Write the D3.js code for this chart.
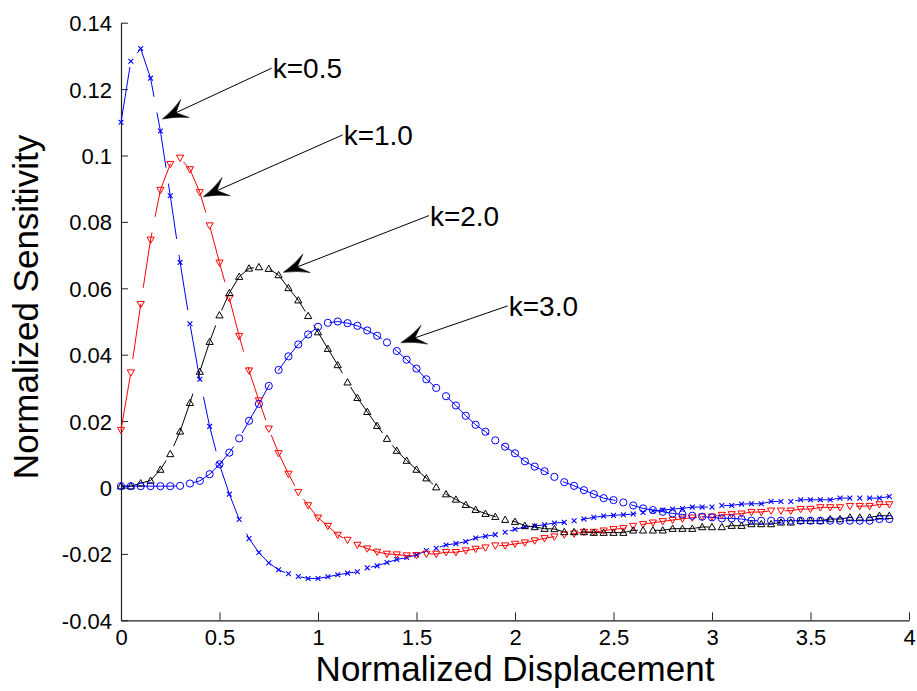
<!DOCTYPE html>
<html>
<head>
<meta charset="utf-8">
<script src="https://cdn.jsdelivr.net/npm/d3@7/dist/d3.min.js"></script>
<style>
  html, body { margin: 0; padding: 0; background: #fff; }
  svg { display: block; font-family: "Liberation Sans", Arial, Helvetica, sans-serif; }
</style>
</head>
<body>
<svg id="chart" width="917" height="691"></svg>
<script>
// Normalized displacement samples (step 0.05)
const displacement = [
  0.00, 0.05, 0.10, 0.15, 0.20, 0.25, 0.30, 0.35, 0.40, 0.45,
  0.50, 0.55, 0.60, 0.65, 0.70, 0.75, 0.80, 0.85, 0.90, 0.95,
  1.00, 1.05, 1.10, 1.15, 1.20, 1.25, 1.30, 1.35, 1.40, 1.45,
  1.50, 1.55, 1.60, 1.65, 1.70, 1.75, 1.80, 1.85, 1.90, 1.95,
  2.00, 2.05, 2.10, 2.15, 2.20, 2.25, 2.30, 2.35, 2.40, 2.45,
  2.50, 2.55, 2.60, 2.65, 2.70, 2.75, 2.80, 2.85, 2.90, 2.95,
  3.00, 3.05, 3.10, 3.15, 3.20, 3.25, 3.30, 3.35, 3.40, 3.45,
  3.50, 3.55, 3.60, 3.65, 3.70, 3.75, 3.80, 3.85, 3.90
];

// Normalized sensitivity for each k
const sensK05 = [
  0.1100, 0.1284, 0.1322, 0.1233, 0.1074, 0.0879, 0.0678, 0.0493, 0.0326, 0.0184,
  0.0069, -0.0020, -0.0096, -0.0154, -0.0196, -0.0227, -0.0248, -0.0260, -0.0268, -0.0274,
  -0.0274, -0.0269, -0.0263, -0.0258, -0.0254, -0.0242, -0.0236, -0.0226, -0.0217, -0.0211,
  -0.0203, -0.0190, -0.0183, -0.0173, -0.0169, -0.0163, -0.0152, -0.0147, -0.0142, -0.0135,
  -0.0126, -0.0119, -0.0116, -0.0112, -0.0107, -0.0105, -0.0100, -0.0095, -0.0090, -0.0086,
  -0.0084, -0.0082, -0.0080, -0.0075, -0.0071, -0.0068, -0.0065, -0.0063, -0.0059, -0.0059,
  -0.0059, -0.0054, -0.0054, -0.0050, -0.0049, -0.0049, -0.0042, -0.0042, -0.0042, -0.0037,
  -0.0037, -0.0037, -0.0037, -0.0032, -0.0032, -0.0032, -0.0032, -0.0032, -0.0027
];

const sensK10 = [
  0.0173, 0.0346, 0.0552, 0.0746, 0.0896, 0.0974, 0.0993, 0.0958, 0.0889, 0.0789,
  0.0677, 0.0570, 0.0456, 0.0352, 0.0262, 0.0177, 0.0103, 0.0041, -0.0014, -0.0054,
  -0.0091, -0.0116, -0.0143, -0.0158, -0.0173, -0.0184, -0.0194, -0.0200, -0.0202, -0.0205,
  -0.0204, -0.0200, -0.0200, -0.0195, -0.0195, -0.0190, -0.0185, -0.0181, -0.0175, -0.0175,
  -0.0170, -0.0166, -0.0160, -0.0153, -0.0148, -0.0142, -0.0139, -0.0134, -0.0134, -0.0130,
  -0.0126, -0.0123, -0.0116, -0.0111, -0.0106, -0.0102, -0.0098, -0.0094, -0.0091, -0.0088,
  -0.0088, -0.0083, -0.0081, -0.0079, -0.0074, -0.0074, -0.0070, -0.0070, -0.0070, -0.0065,
  -0.0065, -0.0060, -0.0060, -0.0060, -0.0056, -0.0056, -0.0056, -0.0051, -0.0051
];

const sensK20 = [
  0.0004, 0.0004, 0.0013, 0.0021, 0.0054, 0.0101, 0.0169, 0.0255, 0.0349, 0.0439,
  0.0519, 0.0586, 0.0635, 0.0660, 0.0664, 0.0659, 0.0640, 0.0601, 0.0564, 0.0517,
  0.0468, 0.0418, 0.0369, 0.0317, 0.0270, 0.0228, 0.0186, 0.0147, 0.0111, 0.0081,
  0.0054, 0.0028, 0.0001, -0.0020, -0.0036, -0.0052, -0.0067, -0.0079, -0.0088, -0.0097,
  -0.0103, -0.0115, -0.0119, -0.0124, -0.0125, -0.0134, -0.0134, -0.0134, -0.0136, -0.0136,
  -0.0136, -0.0136, -0.0129, -0.0129, -0.0129, -0.0129, -0.0124, -0.0124, -0.0124, -0.0119,
  -0.0119, -0.0119, -0.0115, -0.0115, -0.0110, -0.0110, -0.0110, -0.0105, -0.0105, -0.0100,
  -0.0100, -0.0100, -0.0095, -0.0095, -0.0090, -0.0090, -0.0090, -0.0085, -0.0085
];

const sensK30 = [
  0.0004, 0.0004, 0.0004, 0.0004, 0.0004, 0.0004, 0.0005, 0.0012, 0.0020, 0.0040,
  0.0070, 0.0105, 0.0148, 0.0201, 0.0252, 0.0306, 0.0354, 0.0395, 0.0431, 0.0461,
  0.0484, 0.0496, 0.0500, 0.0495, 0.0487, 0.0473, 0.0457, 0.0437, 0.0411, 0.0385,
  0.0358, 0.0326, 0.0300, 0.0275, 0.0247, 0.0216, 0.0189, 0.0168, 0.0142, 0.0123,
  0.0103, 0.0079, 0.0063, 0.0049, 0.0032, 0.0016, 0.0005, -0.0008, -0.0020, -0.0032,
  -0.0038, -0.0045, -0.0054, -0.0063, -0.0068, -0.0073, -0.0078, -0.0081, -0.0085, -0.0088,
  -0.0090, -0.0093, -0.0093, -0.0095, -0.0100, -0.0100, -0.0100, -0.0100, -0.0100, -0.0100,
  -0.0100, -0.0100, -0.0100, -0.0100, -0.0100, -0.0100, -0.0100, -0.0095, -0.0095
];

const seriesNames = ["k=0.5", "k=1.0", "k=2.0", "k=3.0"];

const xTicks = [0, 0.5, 1, 1.5, 2, 2.5, 3, 3.5, 4];
const xTickLabels = ["0", "0.5", "1", "1.5", "2", "2.5", "3", "3.5", "4"];
const yTicks = [-0.04, -0.02, 0, 0.02, 0.04, 0.06, 0.08, 0.1, 0.12, 0.14];
const yTickLabels = ["-0.04", "-0.02", "0", "0.02", "0.04", "0.06", "0.08", "0.1", "0.12", "0.14"];

// Annotation arrows: label anchor point and arrow tip, in data units
const arrowStart = [[0.765, 0.1263], [1.125, 0.1062], [1.563, 0.0819], [1.963, 0.0547]];
const arrowTip   = [[0.210, 0.1110], [0.418, 0.0876], [0.824, 0.0648], [1.420, 0.0436]];

const svg = d3.select("#chart");
const plotLeft = 121, plotRight = 909, plotTop = 22.7, plotBottom = 620.3;

const x = d3.scaleLinear().domain([0, 4]).range([plotLeft, plotRight]);
const y = d3.scaleLinear().domain([-0.04, 0.14]).range([plotBottom, plotTop]);

const styles = [
  { values: sensK05, color: "#0000ff", marker: "x" },
  { values: sensK10, color: "#ff0000", marker: "tdown" },
  { values: sensK20, color: "#000000", marker: "tup" },
  { values: sensK30, color: "#0000ff", marker: "o" }
];

// Axes (ticks pointing into the plot)
const xAxis = d3.axisBottom(x).tickValues(xTicks)
  .tickFormat((d, i) => xTickLabels[i]).tickSizeInner(-8).tickSizeOuter(0).tickPadding(9);
const yAxis = d3.axisLeft(y).tickValues(yTicks)
  .tickFormat((d, i) => yTickLabels[i]).tickSizeInner(-7).tickSizeOuter(0).tickPadding(9);

const gx = svg.append("g").attr("transform", `translate(0,${plotBottom})`).call(xAxis);
const gy = svg.append("g").attr("transform", `translate(${plotLeft},0)`).call(yAxis);
[gx, gy].forEach(g => {
  g.selectAll("path.domain").attr("stroke", "#222").attr("stroke-width", 1.2);
  g.selectAll(".tick line").attr("stroke", "#222").attr("stroke-width", 1);
  g.selectAll(".tick text").attr("fill", "#000").attr("font-size", 22)
    .attr("font-family", "'Liberation Sans', Arial, sans-serif");
});
gy.selectAll(".tick text").attr("dy", "0.36em");
gx.selectAll(".tick text").attr("dy", "0.71em");

// Axis titles
svg.append("text")
  .attr("x", (plotLeft + plotRight) / 2).attr("y", 681)
  .attr("text-anchor", "middle").attr("font-size", 35).attr("fill", "#000")
  .text("Normalized Displacement");
svg.append("text")
  .attr("transform", `translate(38,307) rotate(-90)`)
  .attr("text-anchor", "middle").attr("font-size", 35).attr("fill", "#000")
  .text("Normalized Sensitivity");

// Curves
const line = d3.line().x((d, i) => x(displacement[i])).y(d => y(d));
const plot = svg.append("g");

styles.forEach(s => {
  plot.append("path")
    .datum(s.values)
    .attr("d", line)
    .attr("fill", "none")
    .attr("stroke", s.color)
    .attr("stroke-width", 1)
    .attr("stroke-dasharray", "56,16");
});

styles.forEach(s => {
  const g = plot.append("g");
  s.values.forEach((v, i) => {
    const cx = x(displacement[i]), cy = y(v);
    if (s.marker === "x") {
      const r = 2.4;
      g.append("path")
        .attr("d", `M${cx - r},${cy - r}L${cx + r},${cy + r}M${cx - r},${cy + r}L${cx + r},${cy - r}`)
        .attr("stroke", s.color).attr("stroke-width", 1.1).attr("fill", "none");
    } else if (s.marker === "o") {
      g.append("circle").attr("cx", cx).attr("cy", cy).attr("r", 3.6)
        .attr("stroke", s.color).attr("stroke-width", 1).attr("fill", "none");
    } else {
      const h = 3.6, w = 3.6;
      const dir = s.marker === "tup" ? -1 : 1;
      g.append("path")
        .attr("d", `M${cx},${cy + dir * h}L${cx - w},${cy - dir * h * 0.75}L${cx + w},${cy - dir * h * 0.75}Z`)
        .attr("stroke", s.color).attr("stroke-width", 1).attr("fill", "none");
    }
  });
});

// Annotation arrows with swept heads
const ann = svg.append("g");
seriesNames.forEach((name, i) => {
  const sx = x(arrowStart[i][0]), sy = y(arrowStart[i][1]);
  const tx = x(arrowTip[i][0]), ty = y(arrowTip[i][1]);
  const len = Math.hypot(sx - tx, sy - ty);
  const ux = (sx - tx) / len, uy = (sy - ty) / len;   // unit vector from tip back to start
  const px = -uy, py = ux;
  const headLen = 25, halfW = 10, indent = 15;
  const b1 = [tx + ux * headLen + px * halfW, ty + uy * headLen + py * halfW];
  const b2 = [tx + ux * headLen - px * halfW, ty + uy * headLen - py * halfW];
  const ind = [tx + ux * indent, ty + uy * indent];
  const c1 = [tx + ux * headLen * 0.55 + px * halfW * 0.35, ty + uy * headLen * 0.55 + py * halfW * 0.35];
  const c2 = [tx + ux * headLen * 0.55 - px * halfW * 0.35, ty + uy * headLen * 0.55 - py * halfW * 0.35];
  ann.append("line")
    .attr("x1", sx).attr("y1", sy).attr("x2", ind[0]).attr("y2", ind[1])
    .attr("stroke", "#000").attr("stroke-width", 1);
  ann.append("path")
    .attr("d", `M${tx},${ty}Q${c1[0]},${c1[1]} ${b1[0]},${b1[1]}L${ind[0]},${ind[1]}L${b2[0]},${b2[1]}Q${c2[0]},${c2[1]} ${tx},${ty}Z`)
    .attr("fill", "#000").attr("stroke", "#000").attr("stroke-width", 0.5);
  ann.append("text")
    .attr("x", sx + 1).attr("y", sy + 10)
    .attr("font-size", 28).attr("fill", "#000")
    .text(name);
});
</script>
</body>
</html>
